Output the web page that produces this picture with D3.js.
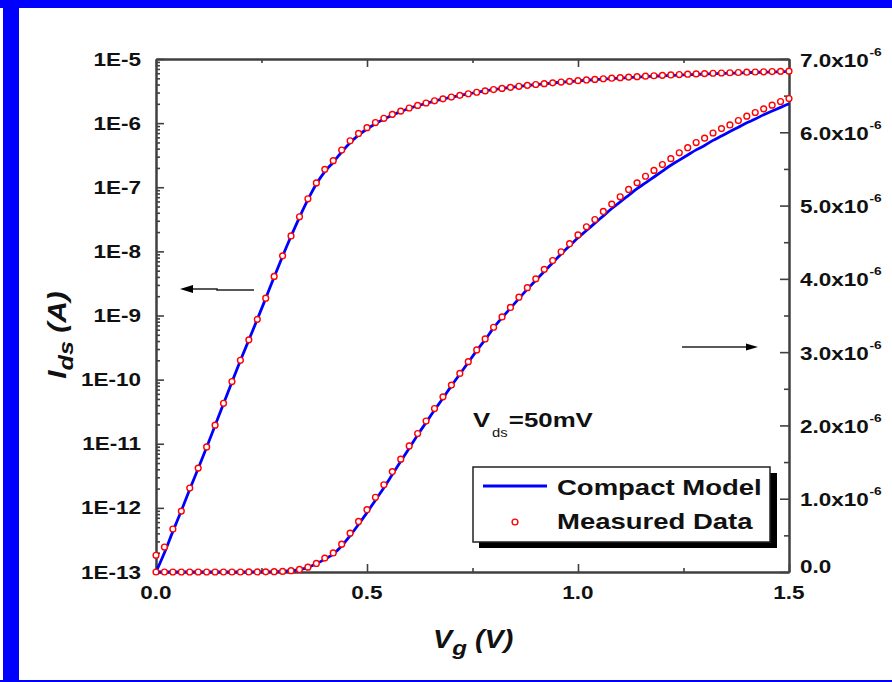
<!DOCTYPE html>
<html><head><meta charset="utf-8">
<script src="https://cdn.jsdelivr.net/npm/d3@7"></script>
<style>
html,body{margin:0;padding:0;background:#fff;}
svg{display:block;}
text{font-family:"Liberation Sans",Arial,sans-serif;font-weight:bold;fill:#111;}
</style></head>
<body>
<svg id="c" width="892" height="682"></svg>
<script>
// ---- data ----
const vg = [0.00,0.02,0.04,0.06,0.08,0.10,0.12,0.14,0.16,0.18,0.20,0.22,0.24,0.26,0.28,0.30,0.32,0.34,0.36,0.38,
  0.40,0.42,0.44,0.46,0.48,0.50,0.52,0.54,0.56,0.58,0.60,0.62,0.64,0.66,0.68,0.70,0.72,0.74,0.76,0.78,
  0.80,0.82,0.84,0.86,0.88,0.90,0.92,0.94,0.96,0.98,1.00,1.02,1.04,1.06,1.08,1.10,1.12,1.14,1.16,1.18,
  1.20,1.22,1.24,1.26,1.28,1.30,1.32,1.34,1.36,1.38,1.40,1.42,1.44,1.46,1.48,1.50];
const measured = [1.82e-13,2.45e-13,4.68e-13,8.91e-13,2.04e-12,4.17e-12,8.91e-12,1.95e-11,4.27e-11,9.33e-11,
  2.0e-10,4.17e-10,8.71e-10,1.86e-9,4.07e-9,8.51e-9,1.74e-8,3.47e-8,6.61e-8,1.17e-7,
  1.9e-7,2.6e-7,3.8e-7,5.3e-7,6.9e-7,8.5e-7,1.02e-6,1.19e-6,1.37e-6,1.54e-6,
  1.72e-6,1.89e-6,2.06e-6,2.23e-6,2.39e-6,2.55e-6,2.71e-6,2.87e-6,3.03e-6,3.18e-6,
  3.34e-6,3.48e-6,3.61e-6,3.75e-6,3.88e-6,4.00e-6,4.13e-6,4.25e-6,4.37e-6,4.48e-6,
  4.60e-6,4.71e-6,4.81e-6,4.92e-6,5.02e-6,5.12e-6,5.22e-6,5.31e-6,5.40e-6,5.48e-6,
  5.56e-6,5.64e-6,5.72e-6,5.79e-6,5.86e-6,5.92e-6,5.99e-6,6.05e-6,6.10e-6,6.16e-6,
  6.22e-6,6.27e-6,6.32e-6,6.37e-6,6.42e-6,6.46e-6];
const model = [1.0e-13,2.0e-13,4.3e-13,9.0e-13,1.95e-12,4.1e-12,8.8e-12,1.93e-11,4.2e-11,9.2e-11,
  1.98e-10,4.15e-10,8.7e-10,1.85e-9,4.0e-9,8.4e-9,1.72e-8,3.4e-8,6.4e-8,1.12e-7,
  1.75e-7,2.45e-7,3.55e-7,4.95e-7,6.5e-7,8.1e-7,9.8e-7,1.15e-6,1.33e-6,1.51e-6,
  1.69e-6,1.87e-6,2.04e-6,2.21e-6,2.37e-6,2.54e-6,2.70e-6,2.86e-6,3.02e-6,3.17e-6,
  3.33e-6,3.47e-6,3.60e-6,3.73e-6,3.86e-6,3.98e-6,4.10e-6,4.22e-6,4.34e-6,4.45e-6,
  4.56e-6,4.66e-6,4.76e-6,4.86e-6,4.96e-6,5.05e-6,5.14e-6,5.23e-6,5.31e-6,5.39e-6,
  5.47e-6,5.55e-6,5.62e-6,5.69e-6,5.76e-6,5.82e-6,5.89e-6,5.95e-6,6.01e-6,6.07e-6,
  6.13e-6,6.18e-6,6.24e-6,6.29e-6,6.34e-6,6.39e-6];
const xTicks = [0.0,0.5,1.0,1.5];
const xMinor = [0.25,0.75,1.25];
const xTickLabels = ["0.0","0.5","1.0","1.5"];
const leftTicks = [1e-13,1e-12,1e-11,1e-10,1e-9,1e-8,1e-7,1e-6,1e-5];
const leftTickLabels = ["1E-13","1E-12","1E-11","1E-10","1E-9","1E-8","1E-7","1E-6","1E-5"];
const rightTicks = [0,1e-6,2e-6,3e-6,4e-6,5e-6,6e-6,7e-6];
const rightTickMant = ["0.0","1.0","2.0","3.0","4.0","5.0","6.0","7.0"];
const rightMinor = [0.5e-6,1.5e-6,2.5e-6,3.5e-6,4.5e-6,5.5e-6,6.5e-6];
const legendLabels = ["Compact Model","Measured Data"];

// ---- layout ----
const L = 156, R = 789, T = 59, B = 572;
const SX = 1.25;               // horizontal stretch of the reference lettering
const axisCol = "#404040";
const svg = d3.select("#c");

// blue frame
svg.append("rect").attr("x",0).attr("y",0).attr("width",892).attr("height",8).attr("fill","#0000ff");
svg.append("rect").attr("x",3).attr("y",0).attr("width",16).attr("height",682).attr("fill","#0000ff");
svg.append("rect").attr("x",0).attr("y",680).attr("width",892).attr("height",2).attr("fill","#0000ff");

const x = d3.scaleLinear().domain([0,1.5]).range([L,R]);
const yL = d3.scaleLog().domain([1e-13,1e-5]).range([B,T]);
const yR = d3.scaleLinear().domain([0,7e-6]).range([B,T]);

function styleAxis(g){
  g.selectAll("path").attr("stroke",axisCol).attr("stroke-width",2);
  g.selectAll("line").attr("stroke",axisCol).attr("stroke-width",1.6);
}
function stretched(px, py, sx, rot){
  return svg.append("g").attr("transform",`translate(${px},${py})${rot?` rotate(${rot})`:""} scale(${sx},1)`);
}

// minor log ticks
const logMinor = [];
for (let e=-13; e<-5; e++) for (let m=2; m<=9; m++) logMinor.push(m*Math.pow(10,e));

// left axis
svg.append("g").attr("transform",`translate(${L},0)`)
  .call(d3.axisLeft(yL).tickValues(logMinor).tickSize(-4).tickSizeOuter(0).tickFormat(""))
  .call(styleAxis);
svg.append("g").attr("transform",`translate(${L},0)`)
  .call(d3.axisLeft(yL).tickValues(leftTicks).tickSize(-8).tickSizeOuter(0).tickFormat(""))
  .call(styleAxis);
leftTicks.forEach((d,i)=>{
  stretched(141, yL(d)+6.5, SX).append("text").attr("text-anchor","end").attr("font-size",18).text(leftTickLabels[i]);
});

// right axis
svg.append("g").attr("transform",`translate(${R},0)`)
  .call(d3.axisRight(yR).tickValues(rightMinor).tickSize(-5).tickSizeOuter(0).tickFormat(""))
  .call(styleAxis);
svg.append("g").attr("transform",`translate(${R},0)`)
  .call(d3.axisRight(yR).tickValues(rightTicks).tickSize(-9).tickSizeOuter(0).tickFormat(""))
  .call(styleAxis);
rightTicks.forEach((d,i)=>{
  const t = stretched(800, yR(d) + (i===0 ? 1 : 7.5), SX).append("text").attr("font-size",18);
  t.append("tspan").text(i===0 ? rightTickMant[i] : rightTickMant[i]+"x10");
  if (i>0) t.append("tspan").attr("dy",-11).attr("dx",0.5).attr("font-size",11).text("-6");
});

// bottom axis
svg.append("g").attr("transform",`translate(0,${B})`)
  .call(d3.axisBottom(x).tickValues(xMinor).tickSize(-4).tickSizeOuter(0).tickFormat(""))
  .call(styleAxis);
svg.append("g").attr("transform",`translate(0,${B})`)
  .call(d3.axisBottom(x).tickValues(xTicks).tickSize(-8).tickSizeOuter(0).tickFormat(""))
  .call(styleAxis);
xTicks.forEach((d,i)=>{
  stretched(x(d), 599, SX).append("text").attr("text-anchor","middle").attr("font-size",18).text(xTickLabels[i]);
});

// top axis
svg.append("g").attr("transform",`translate(0,${T})`)
  .call(d3.axisTop(x).tickValues(xMinor).tickSize(-4).tickSizeOuter(0).tickFormat(""))
  .call(styleAxis);
svg.append("g").attr("transform",`translate(0,${T})`)
  .call(d3.axisTop(x).tickValues(xTicks).tickSize(-8).tickSizeOuter(0).tickFormat(""))
  .call(styleAxis);

// curves
const pts = vg.map((v,i)=>({v, m:measured[i], c:model[i]}));
const lineLog = d3.line().x(d=>x(d.v)).y(d=>yL(d.c)).curve(d3.curveMonotoneX);
const lineLin = d3.line().x(d=>x(d.v)).y(d=>yR(d.c)).curve(d3.curveMonotoneX);
svg.append("path").datum(pts).attr("d",lineLog).attr("fill","none").attr("stroke","#0000ff").attr("stroke-width",2.8);
svg.append("path").datum(pts).attr("d",lineLin).attr("fill","none").attr("stroke","#0000ff").attr("stroke-width",2.8);
svg.append("g").selectAll("circle").data(pts).join("circle")
  .attr("cx",d=>x(d.v)).attr("cy",d=>yL(d.m)).attr("r",2.9)
  .attr("fill","#fff").attr("stroke","#ff0000").attr("stroke-width",1.4);
svg.append("g").selectAll("circle").data(pts).join("circle")
  .attr("cx",d=>x(d.v)).attr("cy",d=>yR(d.m)).attr("r",2.9)
  .attr("fill","#fff").attr("stroke","#ff0000").attr("stroke-width",1.4);

// arrows
svg.append("path").attr("d","M254,290 L217,290 L217,289 L192,289").attr("fill","none").attr("stroke","#222").attr("stroke-width",1.6);
svg.append("path").attr("d","M180,289 L193,285 L193,293 Z").attr("fill","#000");
svg.append("path").attr("d","M682,347 L748,347").attr("fill","none").attr("stroke","#222").attr("stroke-width",1.6);
svg.append("path").attr("d","M758,347 L746,343.5 L746,350.5 Z").attr("fill","#000");

// Vds annotation
const vt = stretched(473, 427, 1.23).append("text").attr("font-size",21);
vt.append("tspan").text("V");
vt.append("tspan").attr("dy",10).attr("font-size",12).attr("font-weight","normal").attr("dx",1.5).text("ds");
vt.append("tspan").attr("dy",-10).attr("dx",1).text("=50mV");

// legend
svg.append("rect").attr("x",479).attr("y",473).attr("width",298).attr("height",75).attr("fill","#000");
svg.append("rect").attr("x",473).attr("y",467).attr("width",297).attr("height",75).attr("fill","#fff").attr("stroke","#222").attr("stroke-width",1.5);
svg.append("line").attr("x1",483).attr("x2",547).attr("y1",486).attr("y2",486).attr("stroke","#0000ff").attr("stroke-width",2.8);
svg.append("circle").attr("cx",515).attr("cy",522).attr("r",2.9).attr("fill","#fff").attr("stroke","#ff0000").attr("stroke-width",1.4);
stretched(557, 495, 1.25).append("text").attr("font-size",22).text(legendLabels[0]);
stretched(557, 529, 1.25).append("text").attr("font-size",22).text(legendLabels[1]);

// axis titles
const xt = stretched(433, 648, 1.15).append("text").attr("font-size",25).attr("font-style","italic");
xt.append("tspan").text("V");
xt.append("tspan").attr("dy",7).attr("font-size",21).text("g");
xt.append("tspan").attr("dy",-7).text(" (V)");
const yt = stretched(66, 335, 1.2, -90).append("text").attr("text-anchor","middle").attr("font-size",25).attr("font-style","italic");
yt.append("tspan").text("I");
yt.append("tspan").attr("dy",7).attr("font-size",21).text("ds");
yt.append("tspan").attr("dy",-7).text(" (A)");
</script>
</body></html>
